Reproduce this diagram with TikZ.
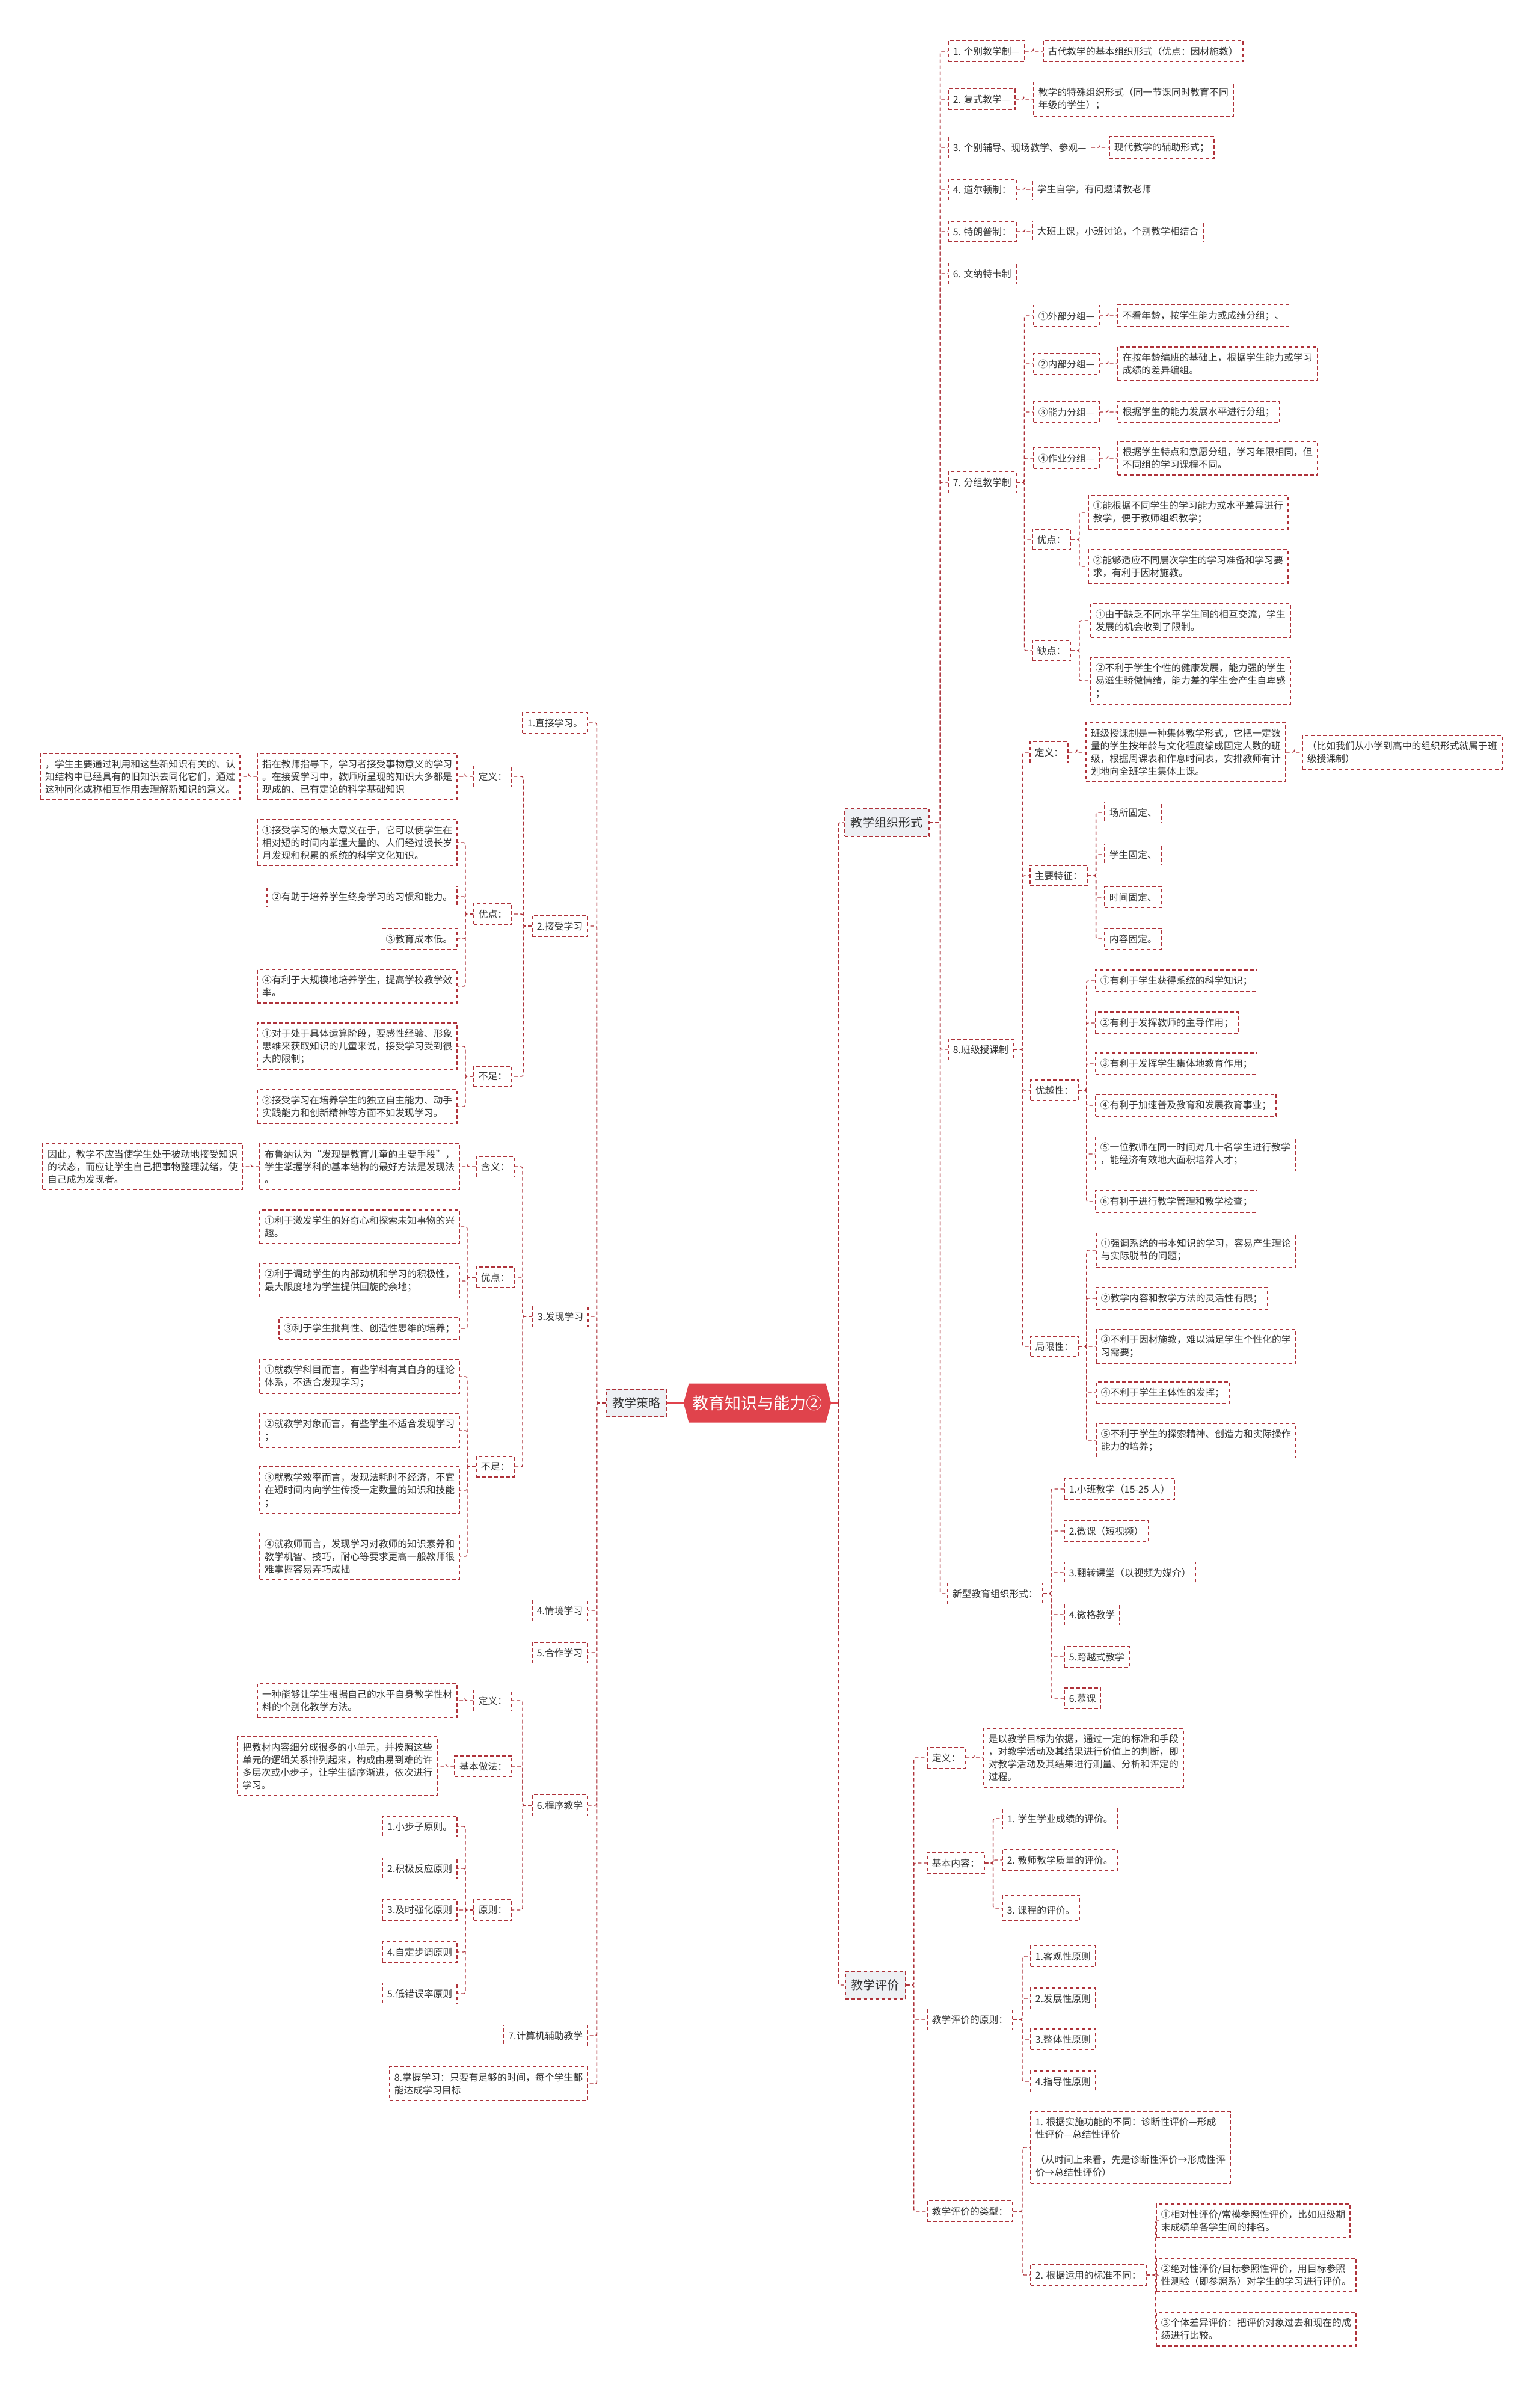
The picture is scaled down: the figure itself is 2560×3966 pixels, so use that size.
\documentclass[tikz,border=0pt]{standalone}
\usepackage{fontspec}
\setmainfont{Noto Sans CJK SC}
\usetikzlibrary{shapes.symbols}
\definecolor{brd}{HTML}{AE323A}
\definecolor{txt}{HTML}{333333}
\definecolor{lvlfill}{HTML}{EEF0F4}
\definecolor{rootred}{HTML}{E0434C}
\newcommand\rlk[3][14]{\draw[conn] (#2.east) -- ++(#1,0) |- (#3.west);}
\newcommand\llk[3][14]{\draw[conn] (#2.west) -- ++(-#1,0) |- (#3.east);}
\begin{document}
\begin{tikzpicture}[x=1pt,y=-1pt,
  box/.style={draw=brd,line width=1.6pt,dash pattern=on 6pt off 4pt,fill=white,text=txt,
    font=\fontsize{15.8}{21}\selectfont,inner xsep=8pt,inner ysep=10pt,align=left},
  lvl/.style={draw=brd,line width=1.6pt,dash pattern=on 6pt off 4pt,fill=lvlfill,text=txt,
    font=\fontsize{20}{24}\selectfont,inner xsep=10pt,minimum height=46pt},
  rootnode/.style={signal,signal to=east and west,signal pointer angle=150,fill=rootred,text=white,
    font=\fontsize{27}{30}\selectfont,minimum height=65pt,minimum width=237pt,inner xsep=6pt},
  conn/.style={draw=brd,line width=1.4pt,dash pattern=on 6pt off 4pt,rounded corners=3pt},
  solidconn/.style={draw=rootred,line width=2.5pt}]
\useasboundingbox (0,0) rectangle (2560,3966);
\fill[white] (0,0) rectangle (2560,3966);

% root and level 1
\node[rootnode] (root) at (1259.5,2333) {教育知识与能力②};
\node[lvl,anchor=west] (R1) at (1404,1368) {教学组织形式};
\node[lvl,anchor=west] (R2) at (1405,3301) {教学评价};
\node[lvl,anchor=east] (L1) at (1109,2333) {教学策略};

% ===== 教学组织形式 =====
\node[box,anchor=west] (a1) at (1576,85) {1. 个别教学制—};
\node[box,anchor=west] (a2) at (1576,165) {2. 复式教学—};
\node[box,anchor=west] (a3) at (1576,245) {3. 个别辅导、现场教学、参观—};
\node[box,anchor=west] (a4) at (1576,315) {4. 道尔顿制：};
\node[box,anchor=west] (a5) at (1576,385) {5. 特朗普制：};
\node[box,anchor=west] (a6) at (1576,455) {6. 文纳特卡制};
\node[box,anchor=west] (a7) at (1576,802) {7. 分组教学制};
\node[box,anchor=west] (a8) at (1576,1745) {8.班级授课制};
\node[box,anchor=west] (a9) at (1575,2650) {新型教育组织形式：};

\node[box,anchor=west] (a1c) at (1734,85) {古代教学的基本组织形式（优点：因材施教）};
\node[box,anchor=west] (a2c) at (1718,165) {教学的特殊组织形式（同一节课同时教育不同\\年级的学生）；};
\node[box,anchor=west] (a3c) at (1844,245) {现代教学的辅助形式；};
\node[box,anchor=west] (a4c) at (1716,315) {学生自学，有问题请教老师};
\node[box,anchor=west] (a5c) at (1716,385) {大班上课，小班讨论，个别教学相结合};

% 7. 分组教学制
\node[box,anchor=west] (b1) at (1718,525) {①外部分组—};
\node[box,anchor=west] (b2) at (1718,605) {②内部分组—};
\node[box,anchor=west] (b3) at (1718,685) {③能力分组—};
\node[box,anchor=west] (b4) at (1718,762) {④作业分组—};
\node[box,anchor=west] (b5) at (1716,897) {优点：};
\node[box,anchor=west] (b6) at (1716,1082) {缺点：};
\node[box,anchor=west] (b1c) at (1858,525) {不看年龄，按学生能力或成绩分组；、};
\node[box,anchor=west] (b2c) at (1858,605) {在按年龄编班的基础上，根据学生能力或学习\\成绩的差异编组。};
\node[box,anchor=west] (b3c) at (1858,685) {根据学生的能力发展水平进行分组；};
\node[box,anchor=west] (b4c) at (1858,762) {根据学生特点和意愿分组，学习年限相同，但\\不同组的学习课程不同。};
\node[box,anchor=west] (b5a) at (1809,852) {①能根据不同学生的学习能力或水平差异进行\\教学，便于教师组织教学；};
\node[box,anchor=west] (b5b) at (1809,942) {②能够适应不同层次学生的学习准备和学习要\\求，有利于因材施教。};
\node[box,anchor=west] (b6a) at (1813,1032) {①由于缺乏不同水平学生间的相互交流，学生\\发展的机会收到了限制。};
\node[box,anchor=west] (b6b) at (1813,1132) {②不利于学生个性的健康发展，能力强的学生\\易滋生骄傲情绪，能力差的学生会产生自卑感\\；};

% 8. 班级授课制
\node[box,anchor=west] (c1) at (1712,1251) {定义：};
\node[box,anchor=west] (c1c) at (1805,1251) {班级授课制是一种集体教学形式，它把一定数\\量的学生按年龄与文化程度编成固定人数的班\\级，根据周课表和作息时间表，安排教师有计\\划地向全班学生集体上课。};
\node[box,anchor=west] (c1d) at (2165,1251) {（比如我们从小学到高中的组织形式就属于班\\级授课制）};
\node[box,anchor=west] (c2) at (1712,1456) {主要特征：};
\node[box,anchor=west] (c2a) at (1836,1351) {场所固定、};
\node[box,anchor=west] (c2b) at (1836,1421) {学生固定、};
\node[box,anchor=west] (c2c) at (1836,1492) {时间固定、};
\node[box,anchor=west] (c2d) at (1836,1561) {内容固定。};
\node[box,anchor=west] (c3) at (1713,1813) {优越性：};
\node[box,anchor=west] (c3a) at (1821,1631) {①有利于学生获得系统的科学知识；};
\node[box,anchor=west] (c3b) at (1821,1701) {②有利于发挥教师的主导作用；};
\node[box,anchor=west] (c3c) at (1821,1769) {③有利于发挥学生集体地教育作用；};
\node[box,anchor=west] (c3d) at (1821,1838) {④有利于加速普及教育和发展教育事业；};
\node[box,anchor=west] (c3e) at (1821,1919) {⑤一位教师在同一时间对几十名学生进行教学\\，能经济有效地大面积培养人才；};
\node[box,anchor=west] (c3f) at (1821,1998) {⑥有利于进行教学管理和教学检查；};
\node[box,anchor=west] (c4) at (1713,2239) {局限性：};
\node[box,anchor=west] (c4a) at (1822,2079) {①强调系统的书本知识的学习，容易产生理论\\与实际脱节的问题；};
\node[box,anchor=west] (c4b) at (1822,2159) {②教学内容和教学方法的灵活性有限；};
\node[box,anchor=west] (c4c) at (1822,2239) {③不利于因材施教，难以满足学生个性化的学\\习需要；};
\node[box,anchor=west] (c4d) at (1822,2316) {④不利于学生主体性的发挥；};
\node[box,anchor=west] (c4e) at (1822,2396) {⑤不利于学生的探索精神、创造力和实际操作\\能力的培养；};

% 新型教育组织形式
\node[box,anchor=west] (n1) at (1769,2476) {1.小班教学（15-25 人）};
\node[box,anchor=west] (n2) at (1769,2546) {2.微课（短视频）};
\node[box,anchor=west] (n3) at (1769,2615) {3.翻转课堂（以视频为媒介）};
\node[box,anchor=west] (n4) at (1769,2685) {4.微格教学};
\node[box,anchor=west] (n5) at (1769,2755) {5.跨越式教学};
\node[box,anchor=west] (n6) at (1769,2824) {6.慕课};

% ===== 教学评价 =====
\node[box,anchor=west] (d1) at (1541,2923) {定义：};
\node[box,anchor=west] (d1c) at (1635,2923) {是以教学目标为依据，通过一定的标准和手段\\，对教学活动及其结果进行价值上的判断，即\\对教学活动及其结果进行测量、分析和评定的\\过程。};
\node[box,anchor=west] (d2) at (1541,3098) {基本内容：};
\node[box,anchor=west] (d2a) at (1666,3024) {1. 学生学业成绩的评价。};
\node[box,anchor=west] (d2b) at (1666,3093) {2. 教师教学质量的评价。};
\node[box,anchor=west] (d2c) at (1666,3173) {\mbox{}\\3. 课程的评价。};
\node[box,anchor=west] (d3) at (1541,3358) {教学评价的原则：};
\node[box,anchor=west] (d3a) at (1713,3253) {1.客观性原则};
\node[box,anchor=west] (d3b) at (1713,3323) {2.发展性原则};
\node[box,anchor=west] (d3c) at (1713,3391) {3.整体性原则};
\node[box,anchor=west] (d3d) at (1713,3461) {4.指导性原则};
\node[box,anchor=west] (d4) at (1541,3677) {教学评价的类型：};
\node[box,anchor=west] (e1) at (1713,3571) {1. 根据实施功能的不同：诊断性评价—形成\\性评价—总结性评价\\\mbox{}\\（从时间上来看，先是诊断性评价→形成性评\\价→总结性评价）};
\node[box,anchor=west] (e2) at (1713,3783) {2. 根据运用的标准不同：};
\node[box,anchor=west] (e2a) at (1922,3693) {①相对性评价/常模参照性评价，比如班级期\\末成绩单各学生间的排名。};
\node[box,anchor=west] (e2b) at (1922,3783) {②绝对性评价/目标参照性评价，用目标参照\\性测验（即参照系）对学生的学习进行评价。};
\node[box,anchor=west] (e2c) at (1922,3873) {③个体差异评价：把评价对象过去和现在的成\\绩进行比较。};

% ===== 教学策略 =====
\node[box,anchor=east] (f1) at (978,1202) {1.直接学习。};
\node[box,anchor=east] (f2) at (978,1540) {2.接受学习};
\node[box,anchor=east] (f3) at (979,2189) {3.发现学习};
\node[box,anchor=east] (f4) at (978,2678) {4.情境学习};
\node[box,anchor=east] (f5) at (978,2748) {5.合作学习};
\node[box,anchor=east] (f6) at (978,3002) {6.程序教学};
\node[box,anchor=east] (f7) at (978,3385) {7.计算机辅助教学};
\node[box,anchor=east] (f8) at (978,3465) {8.掌握学习：只要有足够的时间，每个学生都\\能达成学习目标};

% 2. 接受学习
\node[box,anchor=east] (g1) at (852,1291) {定义：};
\node[box,anchor=east] (g1c) at (761,1291) {指在教师指导下，学习者接受事物意义的学习\\。在接受学习中，教师所呈现的知识大多都是\\现成的、已有定论的科学基础知识};
\node[box,anchor=east] (g1d) at (400,1291) {，学生主要通过利用和这些新知识有关的、认\\知结构中已经具有的旧知识去同化它们，通过\\这种同化或称相互作用去理解新知识的意义。};
\node[box,anchor=east] (g2) at (852,1520) {优点：};
\node[box,anchor=east] (g2a) at (761,1401) {①接受学习的最大意义在于，它可以使学生在\\相对短的时间内掌握大量的、人们经过漫长岁\\月发现和积累的系统的科学文化知识。};
\node[box,anchor=east] (g2b) at (761,1491) {②有助于培养学生终身学习的习惯和能力。};
\node[box,anchor=east] (g2c) at (761,1561) {③教育成本低。};
\node[box,anchor=east] (g2d) at (761,1640) {④有利于大规模地培养学生，提高学校教学效\\率。};
\node[box,anchor=east] (g3) at (852,1790) {不足：};
\node[box,anchor=east] (g3a) at (761,1740) {①对于处于具体运算阶段，要感性经验、形象\\思维来获取知识的儿童来说，接受学习受到很\\大的限制；};
\node[box,anchor=east] (g3b) at (761,1840) {②接受学习在培养学生的独立自主能力、动手\\实践能力和创新精神等方面不如发现学习。};

% 3. 发现学习
\node[box,anchor=east] (h1) at (856,1940) {含义：};
\node[box,anchor=east] (h1c) at (765,1940) {布鲁纳认为“发现是教育儿童的主要手段”，\\学生掌握学科的基本结构的最好方法是发现法\\。};
\node[box,anchor=east] (h1d) at (404,1940) {因此，教学不应当使学生处于被动地接受知识\\的状态，而应让学生自己把事物整理就绪，使\\自己成为发现者。};
\node[box,anchor=east] (h2) at (856,2124) {优点：};
\node[box,anchor=east] (h2a) at (765,2040) {①利于激发学生的好奇心和探索未知事物的兴\\趣。};
\node[box,anchor=east] (h2b) at (765,2130) {②利于调动学生的内部动机和学习的积极性，\\最大限度地为学生提供回旋的余地；};
\node[box,anchor=east] (h2c) at (765,2209) {③利于学生批判性、创造性思维的培养；};
\node[box,anchor=east] (h3) at (856,2439) {不足：};
\node[box,anchor=east] (h3a) at (765,2289) {①就教学科目而言，有些学科有其自身的理论\\体系，不适合发现学习；};
\node[box,anchor=east] (h3b) at (765,2379) {②就教学对象而言，有些学生不适合发现学习\\；};
\node[box,anchor=east] (h3c) at (765,2478) {③就教学效率而言，发现法耗时不经济，不宜\\在短时间内向学生传授一定数量的知识和技能\\；};
\node[box,anchor=east] (h3d) at (765,2588) {④就教师而言，发现学习对教师的知识素养和\\教学机智、技巧，耐心等要求更高一般教师很\\难掌握容易弄巧成拙};

% 6. 程序教学
\node[box,anchor=east] (k1) at (852,2828) {定义：};
\node[box,anchor=east] (k1c) at (761,2828) {一种能够让学生根据自己的水平自身教学性材\\料的个别化教学方法。};
\node[box,anchor=east] (k2) at (852,2937) {基本做法：};
\node[box,anchor=east] (k2c) at (728,2937) {把教材内容细分成很多的小单元，并按照这些\\单元的逻辑关系排列起来，构成由易到难的许\\多层次或小步子，让学生循序渐进，依次进行\\学习。};
\node[box,anchor=east] (k3) at (852,3176) {原则：};
\node[box,anchor=east] (k3a) at (761,3037) {1.小步子原则。};
\node[box,anchor=east] (k3b) at (761,3107) {2.积极反应原则};
\node[box,anchor=east] (k3c) at (761,3176) {3.及时强化原则};
\node[box,anchor=east] (k3d) at (761,3246) {4.自定步调原则};
\node[box,anchor=east] (k3e) at (761,3315) {5.低错误率原则};

% ===== connectors =====
\draw[solidconn] (root.west) -- (L1.east);
\draw[solidconn] (root.east) -- ++(12,0) coordinate (trunk);
\draw[conn] (trunk) |- (R1.west);
\draw[conn] (trunk) |- (R2.west);

\foreach \c in {a1,a2,a3,a4,a5,a6,a7,a8,a9} {\rlk[18]{R1}{\c}}
\rlk{a1}{a1c} \rlk{a2}{a2c} \rlk{a3}{a3c} \rlk{a4}{a4c} \rlk{a5}{a5c}
\foreach \c in {b1,b2,b3,b4,b5,b6} {\rlk[13]{a7}{\c}}
\rlk{b1}{b1c} \rlk{b2}{b2c} \rlk{b3}{b3c} \rlk{b4}{b4c}
\rlk{b5}{b5a} \rlk{b5}{b5b} \rlk{b6}{b6a} \rlk{b6}{b6b}
\foreach \c in {c1,c2,c3,c4} {\rlk[15]{a8}{\c}}
\rlk{c1}{c1c} \rlk{c1c}{c1d}
\foreach \c in {c2a,c2b,c2c,c2d} {\rlk{c2}{\c}}
\foreach \c in {c3a,c3b,c3c,c3d,c3e,c3f} {\rlk[13]{c3}{\c}}
\foreach \c in {c4a,c4b,c4c,c4d,c4e} {\rlk[13]{c4}{\c}}
\foreach \c in {n1,n2,n3,n4,n5,n6} {\rlk[13]{a9}{\c}}

\foreach \c in {d1,d2,d3,d4} {\rlk[13]{R2}{\c}}
\rlk{d1}{d1c}
\foreach \c in {d2a,d2b,d2c} {\rlk{d2}{\c}}
\foreach \c in {d3a,d3b,d3c,d3d} {\rlk[15]{d3}{\c}}
\rlk[15]{d4}{e1} \rlk[15]{d4}{e2}
\foreach \c in {e2a,e2b,e2c} {\rlk[15]{e2}{\c}}

\foreach \c in {f1,f2,f3,f4,f5,f6,f7,f8} {\llk[15]{L1}{\c}}
\foreach \c in {g1,g2,g3} {\llk{f2}{\c}}
\llk{g1}{g1c} \llk{g1c}{g1d}
\foreach \c in {g2a,g2b,g2c,g2d} {\llk[13]{g2}{\c}}
\foreach \c in {g3a,g3b} {\llk[13]{g3}{\c}}
\foreach \c in {h1,h2,h3} {\llk[16]{f3}{\c}}
\llk{h1}{h1c} \llk{h1c}{h1d}
\foreach \c in {h2a,h2b,h2c} {\llk[14]{h2}{\c}}
\foreach \c in {h3a,h3b,h3c,h3d} {\llk[14]{h3}{\c}}
\foreach \c in {k1,k2,k3} {\llk[15]{f6}{\c}}
\llk{k1}{k1c} \llk{k2}{k2c}
\foreach \c in {k3a,k3b,k3c,k3d,k3e} {\llk[13]{k3}{\c}}
\end{tikzpicture}
\end{document}
